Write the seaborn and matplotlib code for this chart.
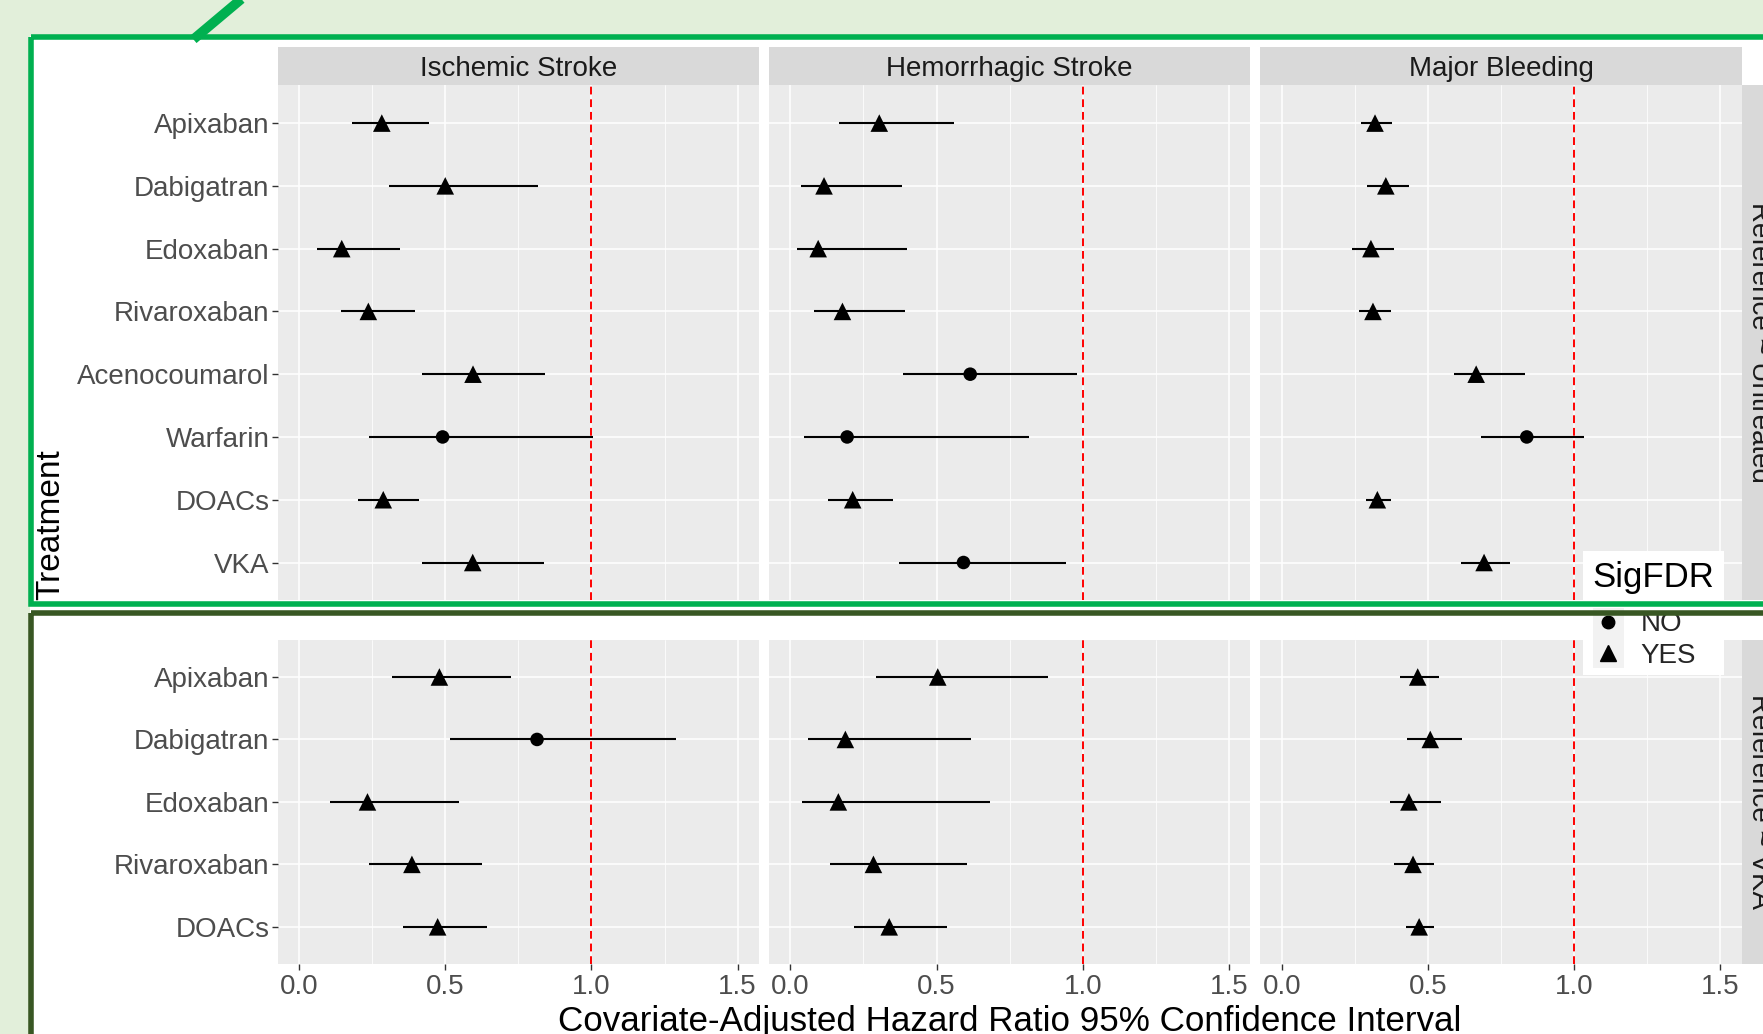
import matplotlib
matplotlib.use("Agg")
import matplotlib.pyplot as plt
from matplotlib.patches import Rectangle
from matplotlib.lines import Line2D
from matplotlib.ticker import MultipleLocator, FormatStrFormatter
import pandas as pd
import seaborn as sns

# ---- data ------------------------------------------------------------------
outcomes = ["Ischemic Stroke", "Hemorrhagic Stroke", "Major Bleeding"]
refs = ["Reference ~ Untreated", "Reference ~ VKA"]

treat_untreated = ["Apixaban", "Dabigatran", "Edoxaban", "Rivaroxaban",
                   "Acenocoumarol", "Warfarin", "DOACs", "VKA"]
treat_vka = ["Apixaban", "Dabigatran", "Edoxaban", "Rivaroxaban", "DOACs"]

hr_untreated = {
    "Ischemic Stroke":    [0.283, 0.500, 0.146, 0.237, 0.595, 0.491, 0.288, 0.594],
    "Hemorrhagic Stroke": [0.304, 0.115, 0.095, 0.178, 0.615, 0.194, 0.213, 0.592],
    "Major Bleeding":     [0.319, 0.356, 0.305, 0.312, 0.665, 0.838, 0.327, 0.692],
}
lo_untreated = {
    "Ischemic Stroke":    [0.180, 0.307, 0.062, 0.142, 0.421, 0.240, 0.203, 0.422],
    "Hemorrhagic Stroke": [0.167, 0.035, 0.022, 0.082, 0.386, 0.046, 0.128, 0.373],
    "Major Bleeding":     [0.270, 0.292, 0.241, 0.265, 0.588, 0.681, 0.288, 0.612],
}
hi_untreated = {
    "Ischemic Stroke":    [0.446, 0.818, 0.344, 0.398, 0.842, 1.006, 0.411, 0.839],
    "Hemorrhagic Stroke": [0.558, 0.383, 0.400, 0.392, 0.979, 0.816, 0.352, 0.941],
    "Major Bleeding":     [0.377, 0.435, 0.384, 0.373, 0.831, 1.035, 0.373, 0.781],
}
sig_untreated = {
    "Ischemic Stroke":    ["YES", "YES", "YES", "YES", "YES", "NO", "YES", "YES"],
    "Hemorrhagic Stroke": ["YES", "YES", "YES", "YES", "NO", "NO", "YES", "NO"],
    "Major Bleeding":     ["YES", "YES", "YES", "YES", "YES", "NO", "YES", "YES"],
}

hr_vka = {
    "Ischemic Stroke":    [0.480, 0.814, 0.234, 0.386, 0.474],
    "Hemorrhagic Stroke": [0.504, 0.188, 0.164, 0.284, 0.338],
    "Major Bleeding":     [0.465, 0.508, 0.435, 0.449, 0.470],
}
lo_vka = {
    "Ischemic Stroke":    [0.319, 0.517, 0.105, 0.240, 0.354],
    "Hemorrhagic Stroke": [0.293, 0.059, 0.041, 0.135, 0.218],
    "Major Bleeding":     [0.404, 0.427, 0.369, 0.384, 0.425],
}
hi_vka = {
    "Ischemic Stroke":    [0.725, 1.288, 0.546, 0.627, 0.644],
    "Hemorrhagic Stroke": [0.880, 0.616, 0.681, 0.605, 0.537],
    "Major Bleeding":     [0.538, 0.615, 0.546, 0.521, 0.520],
}
sig_vka = {
    "Ischemic Stroke":    ["YES", "NO", "YES", "YES", "YES"],
    "Hemorrhagic Stroke": ["YES", "YES", "YES", "YES", "YES"],
    "Major Bleeding":     ["YES", "YES", "YES", "YES", "YES"],
}

# long table
rows = []
for ref, treats, hr, lo, hi, sig in [
        (refs[0], treat_untreated, hr_untreated, lo_untreated, hi_untreated, sig_untreated),
        (refs[1], treat_vka, hr_vka, lo_vka, hi_vka, sig_vka)]:
    for out in outcomes:
        for i, t in enumerate(treats):
            rows.append(dict(ref=ref, outcome=out, Treatment=t, pos=i,
                             hr=hr[out][i], lo=lo[out][i], hi=hi[out][i],
                             SigFDR=sig[out][i]))
df = pd.DataFrame(rows)

# ---- style -----------------------------------------------------------------
sns.set_theme(style="darkgrid")
plt.rcParams["font.family"] = ["Liberation Sans", "DejaVu Sans"]

PANEL_BG = "#EBEBEB"
STRIP_BG = "#D9D9D9"
TICK_TXT = "#4D4D4D"

# layout in the reference's displayed frame (1568 x 920)
W, H = 1568.0, 920.0


def box(x0, y0, x1, y1):
    return [x0 / W, 1 - y1 / H, (x1 - x0) / W, (y1 - y0) / H]


col_x = [247, 684, 1121]
col_w = 428
row_y = [(76, 534), (569, 858)]
strip_y = (42, 76)

fig = plt.figure(figsize=(17.63, 10.34), dpi=100)
fig.patch.set_facecolor("#E2EFDA")

# white slide area behind the chart
bg = fig.add_axes([0, 0, 1, 1], zorder=-5)
bg.set_xlim(0, W)
bg.set_ylim(H, 0)
bg.set_axis_off()
bg.add_patch(Rectangle((27, 32), W, H, facecolor="white", edgecolor="none"))

for r, ref in enumerate(refs):
    treats = treat_untreated if r == 0 else treat_vka
    n = len(treats)
    for c, out in enumerate(outcomes):
        ax = fig.add_axes(box(col_x[c], row_y[r][0], col_x[c] + col_w, row_y[r][1]))
        ax.set_facecolor(PANEL_BG)
        sub = df[(df.ref == ref) & (df.outcome == out)]

        ax.axvline(1.0, color="red", lw=1.4, ls=(0, (4, 2.5)), zorder=2)
        ax.hlines(sub["pos"], sub["lo"], sub["hi"], color="black", lw=1.5, zorder=3)
        sns.scatterplot(data=sub, x="hr", y="pos", style="SigFDR", size="SigFDR",
                        style_order=["NO", "YES"], markers={"NO": "o", "YES": "^"},
                        sizes={"NO": 95, "YES": 160}, color="black",
                        linewidth=0, legend=False, ax=ax, zorder=4)

        ax.set_xlim(-0.073, 1.573)
        ax.set_ylim(n - 1 + 0.6, -0.6)
        ax.set_yticks(range(n))
        ax.xaxis.set_major_locator(MultipleLocator(0.5))
        ax.xaxis.set_minor_locator(MultipleLocator(0.25))
        ax.xaxis.set_major_formatter(FormatStrFormatter("%.1f"))
        ax.grid(which="major", color="white", lw=1.1)
        ax.grid(which="minor", axis="x", color="white", lw=0.55)
        ax.set_axisbelow(True)
        for s in ax.spines.values():
            s.set_visible(False)
        ax.set_xlabel("")
        ax.set_ylabel("")
        ax.tick_params(which="minor", length=0)
        ax.tick_params(which="major", length=4, width=1.0, color="#333333",
                       labelcolor=TICK_TXT, labelsize=20, pad=2)
        if c == 0:
            ax.set_yticklabels(treats)
            ax.tick_params(axis="y", left=True)
        else:
            ax.tick_params(axis="y", left=False, labelleft=False)
        if r == 1:
            ax.tick_params(axis="x", bottom=True, pad=3)
        else:
            ax.tick_params(axis="x", bottom=False, labelbottom=False)

        # column strip
        if r == 0:
            sax = fig.add_axes(box(col_x[c], strip_y[0], col_x[c] + col_w, strip_y[1]))
            sax.set_facecolor(STRIP_BG)
            sax.set_xticks([])
            sax.set_yticks([])
            for s in sax.spines.values():
                s.set_visible(False)
            sax.text(0.5, 0.5, out, ha="center", va="center_baseline", fontsize=20,
                     color="#1A1A1A", transform=sax.transAxes)

    # row strip (runs past the right edge of the screenshot)
    rax = fig.add_axes(box(1549, row_y[r][0], 1583, row_y[r][1]))
    rax.set_facecolor(STRIP_BG)
    rax.set_xticks([])
    rax.set_yticks([])
    for s in rax.spines.values():
        s.set_visible(False)
    fig.text(1564 / W, 1 - (row_y[r][0] + row_y[r][1]) / 2 / H, ref,
             ha="center", va="center", rotation=-90, fontsize=20,
             color="#1A1A1A", zorder=3)

# axis titles
fig.text(45 / W, 1 - 467 / H, "Treatment", rotation=90, ha="center",
         va="center", fontsize=24, color="black")
fig.text(898 / W, 1 - 917 / H, "Covariate-Adjusted Hazard Ratio 95% Confidence Interval",
         ha="center", va="baseline", fontsize=25.2, color="black")

# legend
lax = fig.add_axes(box(1408, 490, 1533, 601), zorder=5)
lax.set_xlim(1408, 1533)
lax.set_ylim(601, 490)
lax.set_facecolor("white")
lax.set_xticks([])
lax.set_yticks([])
for s in lax.spines.values():
    s.set_visible(False)
lax.add_patch(Rectangle((1417, 541), 27, 53, facecolor="#F2F2F2", edgecolor="none"))
lax.text(1416, 511, "SigFDR", ha="left", va="center_baseline", fontsize=25,
         color="black")
handles = [Line2D([], [], ls="none", marker="o", color="black", markersize=9),
           Line2D([], [], ls="none", marker="^", color="black", markersize=11.5)]
leg = lax.legend(handles, ["NO", "YES"], loc="upper left",
                 bbox_to_anchor=(1416.5, 544), bbox_transform=lax.transData,
                 frameon=False, fontsize=20, handlelength=1.1,
                 handletextpad=0.63, labelspacing=0.2, borderpad=0.0,
                 borderaxespad=0.0)

# slide annotation borders drawn on top of everything
ov = fig.add_axes([0, 0, 1, 1], zorder=10)
ov.set_xlim(0, W)
ov.set_ylim(H, 0)
ov.set_axis_off()
ov.patch.set_alpha(0)
ov.add_patch(Rectangle((27.5, 32.5), W, 505, facecolor="none",
                       edgecolor="#00B050", lw=4, clip_on=False))
ov.add_patch(Rectangle((27.5, 545), W, H, facecolor="none",
                       edgecolor="#385723", lw=4, clip_on=False))
ov.plot([172, 216], [35, -2], color="#00B050", lw=7, solid_capstyle="butt",
        clip_on=False)

fig.savefig("out.png", dpi=100)
